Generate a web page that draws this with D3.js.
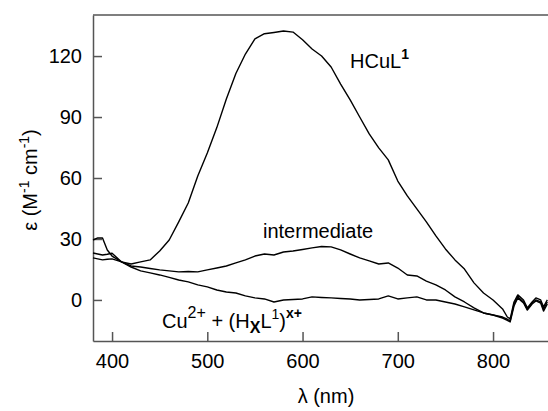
<!DOCTYPE html>
<html>
<head>
<meta charset="utf-8">
<script src="https://cdn.jsdelivr.net/npm/d3@7"></script>
<style>
  body { margin: 0; background: #fff; }
  svg { font-family: "Liberation Sans", Arial, sans-serif; }
</style>
</head>
<body>
<svg width="548" height="411"></svg>
<script>
// wavelengths (nm) shared by the three spectra
var wavelengths = [380, 385, 390, 395, 400, 410, 420, 430, 440, 450, 460, 470, 480, 490, 500,
  510, 520, 530, 540, 550, 560, 570, 580, 590, 600, 610, 620, 630, 640, 650, 660, 670, 680,
  690, 700, 710, 720, 730, 740, 750, 760, 770, 780, 790, 800, 810, 815, 818, 822, 826, 832,
  836, 841, 845, 850, 853, 857];

var hcul = [29.5, 30.5, 30.5, 24.6, 21.6, 18.7, 17.7, 18.7, 19.7, 24.1, 29.5, 38.4, 47.7, 61,
  72.3, 84.8, 98.9, 111.4, 121, 128.4, 131, 131.6, 132.3, 131.8, 128, 123.5, 120, 114.6, 106.2,
  98.4, 90, 81.7, 74.8, 68.9, 58.5, 51.2, 44.8, 38.4, 31.5, 25.1, 19.7, 15.2, 8.4, 3.4, 0, -4.4,
  -8.4, -9.3, -1, 2.5, 0, -3.9, -1, 1, 0, -3.4, 0];

var intermediate = [23.1, 22.6, 22.1, 22.5, 23, 18.7, 16.7, 16.2, 15.5, 14.8, 14.3, 13.8, 14,
  13.8, 14.8, 15.7, 16.7, 18.2, 19.7, 21.6, 22.6, 22.1, 23.6, 24.1, 24.8, 25.6, 26.3, 26.1, 24.6,
  22.6, 20.7, 19.2, 17.7, 18.2, 15.7, 12.3, 11.8, 9.3, 7.4, 4.9, 1.5, -1, -3.9, -6.4, -7.4, -8.4,
  -9.5, -10.3, -2, 1.5, -1, -4.5, -1.5, 0, -1, -4.5, -1];

var copper = [20.7, 20.2, 19.7, 20, 20.2, 18.7, 16.2, 14.3, 13.3, 12.3, 11.1, 9.8, 8.9, 7.4, 6.4,
  4.9, 3.9, 3.4, 2, 1, 0.5, -1, 0, 0.2, 0.5, 1.5, 1.2, 1, 0.7, 0.5, 0, 0.2, 0.5, 2, 0.5, 1, 1.5,
  0, 0, -1, -2, -3.4, -4.9, -6.4, -7.4, -8.9, -10, -10.8, -3, 1, -1.5, -5, -2, -0.5, -1.5, -5.5, -2];

var xTicks = [400, 500, 600, 700, 800];
var yTicks = [0, 30, 60, 90, 120];

var svg = d3.select("svg");
var mLeft = 93, mTop = 15, w = 455, h = 326;

var x = d3.scaleLinear().domain([380, 857.7]).range([mLeft, mLeft + w]);
var y = d3.scaleLinear().domain([-20.2, 140.2]).range([mTop + h, mTop]);

var axisColor = "#555";

// frame (top line only, left/bottom come from the axes)
svg.append("line")
  .attr("x1", mLeft).attr("x2", mLeft + w)
  .attr("y1", mTop).attr("y2", mTop)
  .attr("stroke", axisColor).attr("stroke-width", 1.5);

var gx = svg.append("g")
  .attr("transform", "translate(0," + (mTop + h) + ")")
  .call(d3.axisBottom(x).tickValues(xTicks).tickSize(-9).tickSizeOuter(0).tickPadding(13));

var gy = svg.append("g")
  .attr("transform", "translate(" + mLeft + ",0)")
  .call(d3.axisLeft(y).tickValues(yTicks).tickSize(-9).tickSizeOuter(0).tickPadding(11));

[gx, gy].forEach(function(g) {
  g.select(".domain").attr("stroke", axisColor).attr("stroke-width", 1.5);
  g.selectAll(".tick line").attr("stroke", axisColor).attr("stroke-width", 1.5);
  g.selectAll(".tick text").attr("fill", "#000")
    .style("font-size", "20px").style("font-family", "Liberation Sans, Arial, sans-serif");
});

// spectra
var line = d3.line()
  .x(function(d, i) { return x(wavelengths[i]); })
  .y(function(d) { return y(d); });

[hcul, intermediate, copper].forEach(function(s) {
  svg.append("path")
    .datum(s)
    .attr("fill", "none")
    .attr("stroke", "#000")
    .attr("stroke-width", 1.4)
    .attr("stroke-linejoin", "round")
    .attr("d", line);
});

// labels
var t1 = svg.append("text").attr("x", 350).attr("y", 68).style("font-size", "20px");
t1.append("tspan").text("HCuL");
t1.append("tspan").attr("dy", -9).style("font-size", "14px").style("font-weight", "bold").text("1");

svg.append("text").attr("x", 263).attr("y", 238).style("font-size", "20px").text("intermediate");

var t3 = svg.append("text").attr("x", 162).attr("y", 328).style("font-size", "20px");
t3.append("tspan").text("Cu");
t3.append("tspan").attr("dy", -10).style("font-size", "16px").text("2+");
t3.append("tspan").attr("dy", 10).text(" + (H");
t3.append("tspan").attr("dy", 5).style("font-size", "16px").style("font-weight", "bold").text("X");
t3.append("tspan").attr("dy", -5).text("L");
t3.append("tspan").attr("dy", -9).style("font-size", "14px").text("1");
t3.append("tspan").attr("dy", 9).text(")");
t3.append("tspan").attr("dy", -10).style("font-size", "14px").style("font-weight", "bold").text("x+");

// axis titles
svg.append("text")
  .attr("x", 326).attr("y", 403)
  .attr("text-anchor", "middle")
  .style("font-size", "20px")
  .text("λ (nm)");

var yl = svg.append("text")
  .attr("transform", "translate(37,180) rotate(-90)")
  .attr("text-anchor", "middle")
  .style("font-size", "20px");
yl.append("tspan").text("ε (M");
yl.append("tspan").attr("dy", -8).style("font-size", "14px").text("-1");
yl.append("tspan").attr("dy", 8).text(" cm");
yl.append("tspan").attr("dy", -8).style("font-size", "14px").text("-1");
yl.append("tspan").attr("dy", 8).text(")");
</script>
</body>
</html>
